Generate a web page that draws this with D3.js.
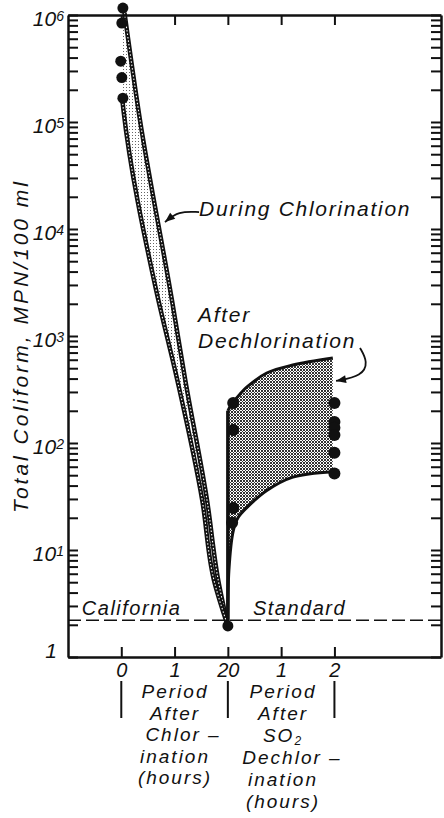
<!DOCTYPE html>
<html>
<head>
<meta charset="utf-8">
<script src="https://cdn.jsdelivr.net/npm/d3@7"></script>
<style>
  body { margin: 0; background: #fff; }
  svg { display: block; }
  text { font-family: "Liberation Sans", Arial, sans-serif; font-style: italic; fill: #111; }
</style>
</head>
<body>
<div id="chart"></div>
<script>
// total coliform vs time, chlorination then SO2 dechlorination

// hours on one running axis: 0..2 chlorination, 2..4 dechlorination
var hourTicks = [0, 1, 2, 3, 4];
var hourLabels = ["0", "1", "20", "1", "2"];
var decades = [1, 10, 100, 1000, 1e4, 1e5, 1e6];
var decadeExp = ["", "1", "2", "3", "4", "5", "6"];
var californiaStd = 2.2;

// samples at start of chlorination
var chlorDots = [[0.03, 1.16e6], [0.01, 8.4e5], [-0.01, 3.7e5], [0.01, 2.6e5], [0.03, 1.67e5]];
var endChlorDot = [2, 1.95];
// samples during dechlorination
var dechlorDots = [[2.1, 237], [2.1, 132], [2.1, 24.7], [2.08, 18],
                   [4, 237], [4, 157], [4, 139], [4, 119], [4, 81], [4, 52]];

// envelope of chlorination band
var chlorRight = [[0.06, 1.05e6], [0.35, 1.05e5], [0.95, 2170], [1.2, 390], [1.61, 29], [1.82, 5.2], [2, 1.95]];
var chlorLeft = [[0.02, 1.0e6], [0.02, 1.6e5], [0.04, 1.3e5], [0.66, 2600], [1.05, 390], [1.52, 29], [1.74, 5.2], [2, 1.95]];

// envelope after dechlorination
var dechlorUpper = [[2, 200], [2.06, 226], [2.23, 287], [2.36, 334], [2.73, 451], [3.22, 536], [3.97, 623]];
var dechlorLower = [[2, 1.95], [2.02, 6.5], [2.1, 15], [2.19, 20], [2.36, 25], [2.73, 36], [3.22, 48], [3.97, 54]];

// annotation arrows
var arrowDuring = [[1.46, 14400], [1.07, 14700], [0.82, 11600]];
var arrowAfter = [[4.48, 773], [4.63, 571], [4.52, 423], [4.03, 380]];

var W = 444, H = 818;
var svg = d3.select("#chart").append("svg").attr("width", W).attr("height", H);

var x = d3.scaleLinear().domain([-1, 6]).range([68, 441]);
var y = d3.scaleLog().domain([1, 1e6]).range([657, 15]);

var minor = [];
decades.slice(0, -1).forEach(function(d){
    for (var k = 1; k < 10; k++) minor.push(d * k);
});
minor.push(1e6);

var defs = svg.append("defs");
var p1 = defs.append("pattern").attr("id", "lightDots")
    .attr("width", 3).attr("height", 3).attr("patternUnits", "userSpaceOnUse");
p1.append("rect").attr("width", 1).attr("height", 1).attr("fill", "#666");
var p2 = defs.append("pattern").attr("id", "darkDots")
    .attr("width", 3).attr("height", 3).attr("patternUnits", "userSpaceOnUse");
p2.append("rect").attr("width", 2).attr("height", 2).attr("fill", "#333");
p2.append("rect").attr("x", 2).attr("y", 2).attr("width", 1).attr("height", 1).attr("fill", "#333");

var line = d3.line().x(function(d){ return x(d[0]); }).y(function(d){ return y(d[1]); });
var smooth = d3.line().x(function(d){ return x(d[0]); }).y(function(d){ return y(d[1]); })
    .curve(d3.curveCatmullRom.alpha(0.5));
var vert = d3.line().x(function(d){ return x(d[0]); }).y(function(d){ return y(d[1]); })
    .curve(d3.curveMonotoneY);

// chlorination band
var bandPath = vert(chlorRight) + vert(chlorLeft.slice().reverse()).replace(/^M/, "L") + "Z";
svg.append("path").attr("d", bandPath).attr("fill", "url(#lightDots)");
[chlorRight, chlorLeft.slice(1)].forEach(function(c){
    svg.append("path").attr("d", vert(c)).attr("fill", "none")
	.attr("stroke", "#111").attr("stroke-width", 4.5).attr("stroke-linejoin", "round");
    svg.append("path").attr("d", vert(c)).attr("fill", "none")
	.attr("stroke", "#fff").attr("stroke-width", 1.1).attr("stroke-dasharray", "1.5,2");
});

// dechlorination region
var dechPath = line([dechlorLower[0], dechlorUpper[0]]) +
    smooth(dechlorUpper).replace(/^M/, "L") +
    smooth(dechlorLower.slice().reverse()).replace(/^M/, "L") + "Z";
svg.append("path").attr("d", dechPath).attr("fill", "url(#darkDots)");
svg.append("path").attr("d", line([dechlorLower[0], dechlorUpper[0]]))
    .attr("stroke", "#111").attr("stroke-width", 3.5);
[dechlorUpper, dechlorLower].forEach(function(c){
    svg.append("path").attr("d", smooth(c)).attr("fill", "none")
	.attr("stroke", "#111").attr("stroke-width", 3);
});

// California standard
svg.append("line")
    .attr("x1", x(-1)).attr("x2", x(6))
    .attr("y1", y(californiaStd)).attr("y2", y(californiaStd))
    .attr("stroke", "#111").attr("stroke-width", 1.5).attr("stroke-dasharray", "13,5");

// dots
svg.selectAll(".cdot").data(chlorDots).enter().append("circle")
    .attr("cx", function(d){ return x(d[0]); }).attr("cy", function(d){ return y(d[1]); })
    .attr("r", 5.5).attr("fill", "#111");
svg.append("circle").attr("cx", x(endChlorDot[0])).attr("cy", y(endChlorDot[1])).attr("r", 5.5).attr("fill", "#111");
svg.selectAll(".ddot").data(dechlorDots).enter().append("circle")
    .attr("cx", function(d){ return x(d[0]); }).attr("cy", function(d){ return y(d[1]); })
    .attr("r", 6).attr("fill", "#111");

// axes
function styleAxis(g){
    g.select(".domain").attr("stroke", "#111").attr("stroke-width", 2.5);
    g.selectAll(".tick line").attr("stroke", "#111").attr("stroke-width", 2);
}
svg.append("g").attr("transform", "translate(68,0)")
    .call(d3.axisLeft(y).tickValues(minor).tickSizeInner(-10).tickSizeOuter(0).tickFormat(""))
    .call(styleAxis);
svg.append("g").attr("transform", "translate(441,0)")
    .call(d3.axisRight(y).tickValues(minor).tickSizeInner(-10).tickSizeOuter(0).tickFormat(""))
    .call(styleAxis);
svg.append("g").attr("transform", "translate(0,15)")
    .call(d3.axisTop(x).tickValues(hourTicks).tickSizeInner(-10).tickSizeOuter(0).tickFormat(""))
    .call(styleAxis);
var bottom = svg.append("g").attr("transform", "translate(0,657)")
    .call(d3.axisBottom(x).tickValues(hourTicks).tickSizeInner(-10).tickSizeOuter(0).tickPadding(6)
	  .tickFormat(function(d, i){ return hourLabels[i]; }))
    .call(styleAxis);
bottom.selectAll(".tick text").attr("font-size", 20).attr("font-family", null).attr("fill", "#111");

// decade labels
decades.forEach(function(d, i){
    var t = svg.append("text").attr("text-anchor", "end").attr("font-size", 21);
    if (i == 0) {
	t.attr("x", 57).attr("y", y(d) + 1).text("1");
    } else {
	t.attr("x", 64).attr("y", y(d) + 11);
	t.append("tspan").text("10");
	t.append("tspan").attr("font-size", 14).attr("dy", -5).text(decadeExp[i]);
    }
});

// y title
svg.append("text")
    .attr("transform", "translate(28,346) rotate(-90)")
    .attr("text-anchor", "middle").attr("font-size", 21).attr("letter-spacing", 3)
    .text("Total Coliform, MPN/100 ml");

// labels inside the plot
function label(txt, h, v, size, ls){
    return svg.append("text").attr("x", x(h)).attr("y", y(v))
	.attr("font-size", size).attr("letter-spacing", ls).text(txt);
}
label("During Chlorination", 1.46, 13200, 21, 1.7);
label("After", 1.44, 1352, 21, 1.7);
label("Dechlorination", 1.44, 773, 21, 1.7);
label("California", -0.74, 2.47, 20, 1.5);
label("Standard", 2.47, 2.47, 20, 1.5);

// arrows
var arrowLine = d3.line().x(function(d){ return x(d[0]); }).y(function(d){ return y(d[1]); })
    .curve(d3.curveBasis);
[arrowDuring, arrowAfter].forEach(function(a){
    svg.append("path").attr("d", arrowLine(a)).attr("fill", "none")
	.attr("stroke", "#111").attr("stroke-width", 1.8);
    var p = a[a.length - 1], q = a[a.length - 2];
    var px = x(p[0]), py = y(p[1]);
    var ang = Math.atan2(py - y(q[1]), px - x(q[0])) * 180 / Math.PI;
    svg.append("path").attr("d", "M0,0L-10,-4L-10,4Z").attr("fill", "#111")
	.attr("transform", "translate(" + px + "," + py + ") rotate(" + ang + ")");
});

// period separators and captions below the axis
[0, 2, 4].forEach(function(h){
    svg.append("line").attr("x1", x(h)).attr("x2", x(h)).attr("y1", 681).attr("y2", 718)
	.attr("stroke", "#111").attr("stroke-width", 2);
});
var capLeft = ["Period", "After", "Chlor \u2013", "ination", "(hours)"];
var capRight = ["Period", "After", "SO2", "Dechlor \u2013", "ination", "(hours)"];
capLeft.forEach(function(s, i){
    svg.append("text").attr("x", i == 2 ? 183 : 175).attr("y", 698 + i * 21.5)
	.attr("text-anchor", "middle").attr("font-size", 19).attr("letter-spacing", 2).text(s);
});
capRight.forEach(function(s, i){
    var t = svg.append("text").attr("x", i == 3 ? 292 : 283).attr("y", 698 + i * 22)
	.attr("text-anchor", "middle").attr("font-size", 19).attr("letter-spacing", 2);
    if (s == "SO2") {
	t.append("tspan").text("SO");
	t.append("tspan").attr("font-size", 12).attr("dy", 3).text("2");
    } else t.text(s);
});
</script>
</body>
</html>
